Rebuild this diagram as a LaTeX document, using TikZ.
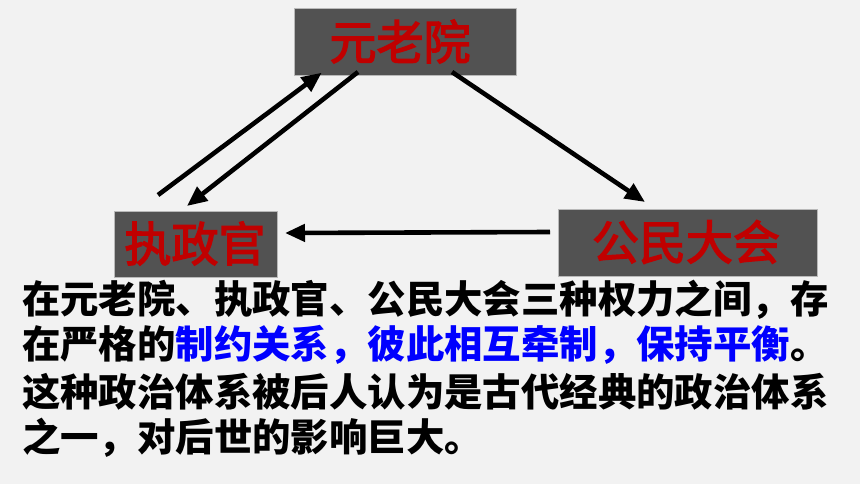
\documentclass[tikz,border=0pt]{standalone}
\usepackage{fontspec}
\newfontfamily\cjk{Noto Sans CJK SC}
\newfontfamily\cjkm{Noto Sans CJK SC}[FakeBold=3]
\usetikzlibrary{arrows.meta}
\definecolor{bgc}{HTML}{F2F2F2}
\definecolor{boxc}{HTML}{525252}
\definecolor{redc}{HTML}{C00000}
\definecolor{bluec}{HTML}{0000FF}
\tikzset{
  organ/.style={fill=boxc, draw=gray!55, line width=0.6pt, inner sep=0pt},
  organlabel/.style={text=redc, inner sep=0pt, font=\cjkm\fontsize{47}{50}\selectfont},
  flow/.style={line width=4.6pt, -{Triangle[length=20pt,width=17pt]}},
  para/.style={anchor=west, inner sep=0pt, text=black, font=\cjk\bfseries\fontsize{38.4}{40}\selectfont}
}
\begin{document}
\begin{tikzpicture}[x=1pt,y=-1pt]
\fill[bgc] (0,0) rectangle (860,484);
\useasboundingbox (0,0) rectangle (860,484);
% boxes
\node[organ, minimum width=222pt, minimum height=67pt] (sen) at (405,41.5) {};
\node[organlabel] (sent) at (400,41.5) {元老院};
\node[organ, minimum width=163pt, minimum height=66pt] (con) at (196,244) {};
\node[organlabel] (cont) at (195,243.5) {执政官};
\node[organ, minimum width=259pt, minimum height=67pt] (ass) at (687.5,243) {};
\node[organlabel] (asst) at (686,242) {公民大会};
% arrow endpoints
\coordinate (a1s) at (158,195);
\coordinate (a1e) at (321.7,72.7);
\coordinate (a2s) at (358,72);
\coordinate (a2e) at (187,206);
\coordinate (a3s) at (452,72);
\coordinate (a3e) at (645,202);
\coordinate (a4s) at (550,232);
\coordinate (a4e) at (285,233);
\draw[flow] (a1s) -- (a1e);
\draw[flow] (a2s) -- (a2e);
\draw[flow] (a3s) -- (a3e);
\draw[flow] (a4s) -- (a4e);
% paragraph
\node[para] (l1) at (22,299.5) {在元老院、执政官、公民大会三种权力之间，存};
\node[para] (l2) at (22,345) {在严格的\textcolor{bluec}{制约关系，彼此相互牵制，保持平衡}。};
\node[para] (l3) at (22,391.5) {这种政治体系被后人认为是古代经典的政治体系};
\node[para] (l4) at (22,437.5) {之一，对后世的影响巨大。};
\end{tikzpicture}
\end{document}
